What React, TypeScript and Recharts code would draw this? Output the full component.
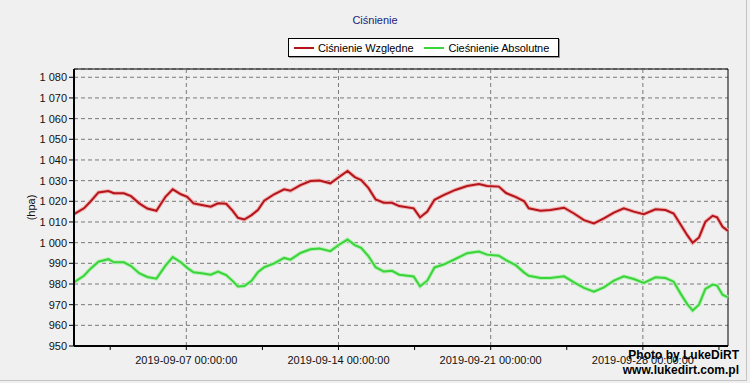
import React from 'react';
import { LineChart, Line, XAxis, YAxis, CartesianGrid, ReferenceLine, ReferenceArea } from 'recharts';

const times = [
  "2019-09-01 20:00", "2019-09-02 07:00", "2019-09-02 14:00", "2019-09-02 23:00", "2019-09-03 10:00",
  "2019-09-03 16:00", "2019-09-04 03:00", "2019-09-04 11:00", "2019-09-04 20:00", "2019-09-05 05:00",
  "2019-09-05 15:00", "2019-09-06 01:00", "2019-09-06 09:00", "2019-09-06 18:00", "2019-09-07 01:00",
  "2019-09-07 08:00", "2019-09-07 17:00", "2019-09-08 03:00", "2019-09-08 11:00", "2019-09-08 20:00",
  "2019-09-09 03:00", "2019-09-09 09:00", "2019-09-09 16:00", "2019-09-10 00:00", "2019-09-10 07:00",
  "2019-09-10 14:00", "2019-09-11 01:00", "2019-09-11 12:00", "2019-09-11 19:00", "2019-09-12 06:00",
  "2019-09-12 17:00", "2019-09-13 03:00", "2019-09-13 15:00", "2019-09-14 01:00", "2019-09-14 10:00",
  "2019-09-14 18:00", "2019-09-15 01:00", "2019-09-15 09:00", "2019-09-15 17:00", "2019-09-16 02:00",
  "2019-09-16 11:00", "2019-09-16 19:00",
  "2019-09-17 11:00", "2019-09-17 18:00", "2019-09-18 02:00", "2019-09-18 10:00", "2019-09-18 20:00",
  "2019-09-19 09:00", "2019-09-19 22:00", "2019-09-20 11:00", "2019-09-20 20:00", "2019-09-21 09:00",
  "2019-09-21 17:00", "2019-09-22 04:00", "2019-09-22 13:00", "2019-09-22 18:00", "2019-09-23 07:00",
  "2019-09-23 18:00", "2019-09-24 09:00", "2019-09-24 20:00", "2019-09-25 07:00", "2019-09-25 18:00",
  "2019-09-26 05:00", "2019-09-26 16:00", "2019-09-27 03:00", "2019-09-27 14:00", "2019-09-28 01:00",
  "2019-09-28 14:00", "2019-09-29 01:00", "2019-09-29 10:00", "2019-09-29 18:00", "2019-09-30 01:00",
  "2019-09-30 07:00", "2019-09-30 14:00", "2019-09-30 21:00", "2019-10-01 05:00", "2019-10-01 10:00",
  "2019-10-01 16:00", "2019-10-01 22:00",
];

const cisnienieWzgledne = [
  1013.8, 1016.6, 1019.8, 1024.3, 1025.0, 1023.9, 1023.9, 1022.5, 1019.0, 1016.5,
  1015.4, 1022.2, 1025.8, 1023.4, 1022.2, 1019.0, 1018.2, 1017.4, 1019.0, 1018.8,
  1015.5, 1012.0, 1011.2, 1013.3, 1015.8, 1020.3, 1023.4, 1025.8, 1025.1, 1027.8,
  1029.8, 1030.1, 1028.7, 1031.9, 1034.7, 1031.7, 1030.3, 1026.5, 1020.9, 1019.3,
  1019.3, 1017.7,
  1016.6, 1012.2, 1015.0, 1020.7, 1023.0, 1025.5, 1027.4, 1028.4, 1027.4, 1027.1,
  1024.0, 1022.0, 1020.0, 1016.6, 1015.4, 1015.8, 1016.9, 1014.1, 1010.9, 1009.3,
  1011.7, 1014.5, 1016.6, 1015.0, 1013.8, 1016.1, 1015.8, 1014.1, 1008.5, 1003.6,
  999.9, 1002.5, 1010.1, 1013.0, 1012.2, 1007.7, 1005.7,
];

const cisnienieAbsolutne = [
  980.8, 984.0, 987.3, 990.8, 992.0, 990.5, 990.5, 988.7, 985.2, 983.4,
  982.6, 988.9, 993.0, 990.5, 987.8, 985.7, 985.2, 984.5, 986.0, 984.3,
  981.5, 978.8, 979.0, 981.5, 985.7, 988.1, 990.0, 992.6, 991.8, 995.0,
  996.8, 997.2, 995.9, 999.1, 1001.5, 998.8, 997.5, 993.5, 988.1, 986.0,
  986.4, 984.5,
  983.6, 978.9, 981.6, 988.0, 989.4, 992.1, 994.9, 995.7, 994.2, 993.7,
  991.5, 989.0, 985.5, 984.0, 982.9, 982.9, 983.7, 980.8, 978.1, 976.3,
  978.4, 981.6, 983.7, 982.4, 980.5, 983.2, 982.9, 981.1, 975.1, 970.3,
  967.2, 970.0, 977.6, 979.7, 979.2, 974.8, 973.5,
];

const yTicks = [950, 960, 970, 980, 990, 1000, 1010, 1020, 1030, 1040, 1050, 1060, 1070, 1080];
const yDomainTop = 1084;
const majorTicks = ["2019-09-07 00:00:00", "2019-09-14 00:00:00", "2019-09-21 00:00:00", "2019-09-28 00:00:00"];
const minorTicks = ["2019-09-03 12:00:00", "2019-09-10 12:00:00", "2019-09-17 12:00:00", "2019-09-24 12:00:00", "2019-10-01 12:00:00"];

const toMs = (s: string) => {
  const [d, t] = s.split(' ');
  const [Y, M, D] = d.split('-').map(Number);
  const [h, m, sec] = t.split(':').map(Number);
  return Date.UTC(Y, M - 1, D, h, m || 0, sec || 0);
};

const data = times.map((t, i) => ({ t: toMs(t), r: cisnienieWzgledne[i], a: cisnienieAbsolutne[i] }));
const majorMs = majorTicks.map(toMs);
const labelByMs = new Map<number, string>(majorTicks.map((s) => [toMs(s), s]));
const allTicks = [...majorMs, ...minorTicks.map(toMs)].sort((a, b) => a - b);

const FONT = '"Liberation Sans", Arial, sans-serif';
const RED = '#b3151b';
const RED_HALO = '#f2b4b4';
const GREEN = '#3bd43b';
const GREEN_HALO = '#b6f0b6';

const fmtY = (v: number) => (v >= 1000 ? `1 ${String(v).slice(1)}` : String(v));

export default function App() {
  const x0 = data[0].t;
  const x1 = data[data.length - 1].t;
  return (
    <div style={{ position: 'absolute', left: 0, top: 0, width: 750, height: 383, background: '#f0f0f0', fontFamily: FONT, overflow: 'hidden' }}>
      <div style={{ position: 'absolute', left: 0, top: 0, width: 746, height: 380, borderRight: '1px solid #c4c4c4', borderBottom: '1px solid #c4c4c4' }} />
      <div style={{ position: 'absolute', left: 0, width: 750, top: 14, textAlign: 'center', fontSize: 11, color: '#1c1c78' }}>Ciśnienie</div>
      <div style={{ position: 'absolute', left: 288, top: 38, width: 269, height: 17, background: '#fff', border: '1px solid #000', boxShadow: '1px 1px 0 #9a9a9a', display: 'flex', alignItems: 'center', fontSize: 11, letterSpacing: -0.1, color: '#000', boxSizing: 'content-box', whiteSpace: 'nowrap' }}>
        <span style={{ display: 'inline-block', flex: 'none', width: 20, height: 2, background: RED, marginLeft: 5, marginRight: 4 }} />
        <span style={{ flex: 'none' }}>Ciśnienie Względne</span>
        <span style={{ display: 'inline-block', flex: 'none', width: 20, height: 2, background: GREEN, marginLeft: 11, marginRight: 4 }} />
        <span style={{ flex: 'none' }}>Cieśnienie Absolutne</span>
      </div>
      <div style={{ position: 'absolute', left: 0, top: 0 }}>
        <LineChart width={750} height={383} data={data} margin={{ top: 69, right: 22, left: 0, bottom: 7 }}>
          <CartesianGrid vertical={false} stroke="#7a7a7a" strokeDasharray="4 3" />
          {majorMs.map((m) => (
            <ReferenceLine key={m} x={m} stroke="#7a7a7a" strokeDasharray="4 3" />
          ))}
          <ReferenceArea x1={x0} x2={x1} y1={950} y2={yDomainTop} fill="none" fillOpacity={0} stroke="#000" strokeWidth={1} />
          <XAxis
            dataKey="t"
            type="number"
            domain={['dataMin', 'dataMax']}
            ticks={allTicks}
            interval={0}
            tickFormatter={(v: number) => labelByMs.get(v) ?? ''}
            height={30}
            tickSize={4}
            tickMargin={6}
            axisLine={{ stroke: '#000', strokeWidth: 2 }}
            tickLine={{ stroke: '#000' }}
            tick={{ fill: '#111', fontSize: 11, fontFamily: FONT }}
          />
          <YAxis
            type="number"
            domain={[950, yDomainTop]}
            ticks={yTicks}
            interval={0}
            width={74}
            tickSize={5}
            tickMargin={2}
            tickFormatter={fmtY}
            axisLine={{ stroke: '#000', strokeWidth: 2 }}
            tickLine={{ stroke: '#000' }}
            tick={{ fill: '#111', fontSize: 11, fontFamily: FONT }}
            label={{ value: '(hpa)', angle: -90, position: 'insideLeft', offset: 31, style: { textAnchor: 'middle', fontSize: 11, fontFamily: FONT, fill: '#111' } }}
          />
          <Line dataKey="r" type="linear" stroke={RED_HALO} strokeWidth={4} dot={false} isAnimationActive={false} />
          <Line dataKey="a" type="linear" stroke={GREEN_HALO} strokeWidth={4} dot={false} isAnimationActive={false} />
          <Line dataKey="r" type="linear" stroke={RED} strokeWidth={2} dot={false} isAnimationActive={false} />
          <Line dataKey="a" type="linear" stroke={GREEN} strokeWidth={2} dot={false} isAnimationActive={false} />
        </LineChart>
      </div>
      <div style={{ position: 'absolute', right: 11, top: 348, textAlign: 'right', fontSize: 12, fontWeight: 'bold', color: '#000', lineHeight: '15px' }}>
        <div>Photo by LukeDiRT</div>
        <div>www.lukedirt.com.pl</div>
      </div>
    </div>
  );
}
